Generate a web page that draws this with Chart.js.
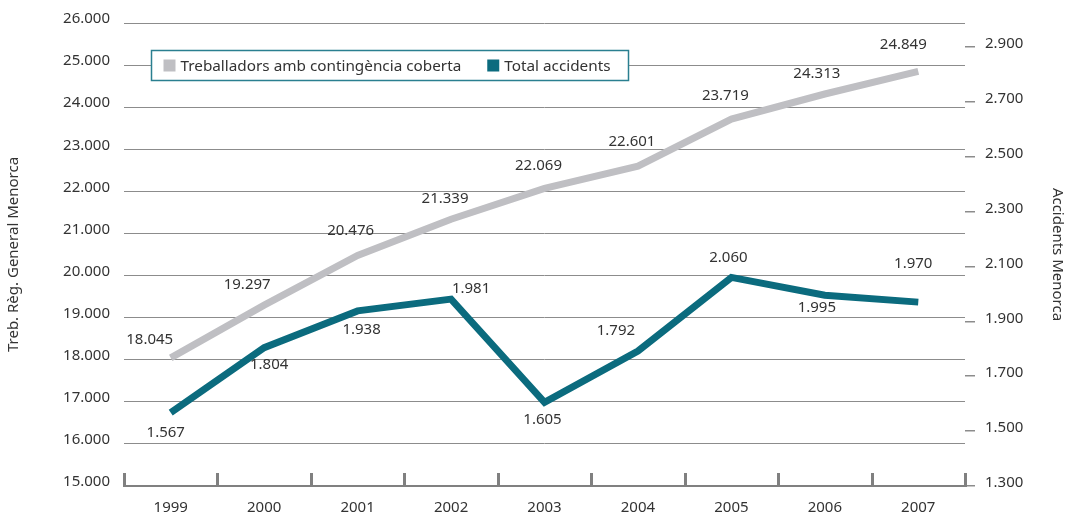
<!DOCTYPE html>
<html>
<head>
<meta charset="utf-8">
<script src="https://cdn.jsdelivr.net/npm/chart.js@4.4.1/dist/chart.umd.min.js"></script>
<style>
    body { margin: 0; background: #fff; }
    #wrap { width: 1068px; height: 515px; }
</style>
</head>
<body>
<div id="wrap"><canvas id="chart" width="1068" height="515"></canvas></div>
<script>
const years = ['1999', '2000', '2001', '2002', '2003', '2004', '2005', '2006', '2007'];
const workers = [18045, 19297, 20476, 21339, 22069, 22601, 23719, 24313, 24849];
const accidents = [1567, 1804, 1938, 1981, 1605, 1792, 2060, 1995, 1970];
const rightTicks = [1300, 1500, 1700, 1900, 2100, 2300, 2500, 2700, 2900];

// where each value label sits relative to its point (px)
const workersLabelShift = [[-21, -18], [-17, -20], [-7, -25], [-6, -20], [-6, -23], [-6, -24], [-6, -23], [-8, -20], [-15, -27]];
const accidentsLabelShift = [[-5, 20], [5, 17], [4, 19], [20, -10], [-2, 17], [-22, -20], [-3, -20], [-8, 12], [-5, -38]];

const GRAY = '#bfbfc3';
const TEAL = '#0b6b7e';
const GRID = '#8c8c8c';
const TEXT = '#333333';
const FONT = '"Noto Sans", sans-serif';

const fmt = v => String(v).replace(/\B(?=(\d{3})+(?!\d))/g, '.');

// baseline plus the short upward ticks between the years
const bottomTicks = {
    id: 'bottomTicks',
    afterDraw(chart) {
        const ctx = chart.ctx;
        const x = chart.scales.x;
        const { left, right, bottom } = chart.chartArea;
        const base = Math.round(bottom);
        ctx.save();
        ctx.strokeStyle = '#808080';
        ctx.lineWidth = 2;
        ctx.beginPath();
        ctx.moveTo(left - 1, base);
        ctx.lineTo(right + 1, base);
        ctx.stroke();
        ctx.lineWidth = 3;
        for (let i = 0; i <= years.length; i++) {
            const px = Math.round(x.getPixelForValue(i - 0.5)) + 0.5;
            ctx.beginPath();
            ctx.moveTo(px, base - 13);
            ctx.lineTo(px, base + 1);
            ctx.stroke();
        }
        ctx.restore();
    }
};

const valueLabels = {
    id: 'valueLabels',
    afterDatasetsDraw(chart) {
        const ctx = chart.ctx;
        const shifts = [workersLabelShift, accidentsLabelShift];
        ctx.save();
        ctx.font = '15px ' + FONT;
        ctx.fillStyle = TEXT;
        ctx.textAlign = 'center';
        ctx.textBaseline = 'middle';
        chart.data.datasets.forEach((ds, d) => {
            chart.getDatasetMeta(d).data.forEach((pt, i) => {
                const s = shifts[d][i];
                ctx.fillText(fmt(ds.data[i]), pt.x + s[0], pt.y + s[1]);
            });
        });
        ctx.restore();
    }
};

const boxLegend = {
    id: 'boxLegend',
    afterDraw(chart) {
        const ctx = chart.ctx;
        const left = 151.5, top = 50.5, w = 477, h = 30;
        ctx.save();
        ctx.fillStyle = '#fff';
        ctx.fillRect(left, top, w, h);
        ctx.strokeStyle = '#2a7f90';
        ctx.lineWidth = 1.5;
        ctx.strokeRect(left, top, w, h);
        ctx.font = '15.3px ' + FONT;
        ctx.textBaseline = 'middle';
        let x = left + 12;
        const cy = top + h / 2;
        chart.data.datasets.forEach(ds => {
            ctx.fillStyle = ds.borderColor;
            ctx.fillRect(x, cy - 6, 12, 12);
            x += 17;
            ctx.fillStyle = TEXT;
            ctx.fillText(ds.label, x, cy + 1);
            x += ctx.measureText(ds.label).width + 26;
        });
        ctx.restore();
    }
};

new Chart(document.getElementById('chart'), {
    type: 'line',
    data: {
        labels: years,
        datasets: [
            { label: 'Treballadors amb contingència coberta', data: workers, yAxisID: 'y', borderColor: GRAY, backgroundColor: GRAY },
            { label: 'Total accidents', data: accidents, yAxisID: 'y1', borderColor: TEAL, backgroundColor: TEAL }
        ]
    },
    options: {
        responsive: false,
        animation: false,
        layout: { padding: { top: 23, left: 0, right: 0, bottom: 0 } },
        elements: {
            line: { borderWidth: 7, tension: 0, borderCapStyle: 'butt', borderJoinStyle: 'miter' },
            point: { radius: 0, hoverRadius: 0 }
        },
        plugins: { legend: { display: false }, tooltip: { enabled: false } },
        scales: {
            x: {
                offset: true,
                grid: { display: false, drawTicks: false },
                border: { display: false },
                ticks: { color: TEXT, font: { family: FONT, size: 15 }, padding: 13, maxRotation: 0 },
                afterFit: s => { s.height = 29; }
            },
            y: {
                position: 'left',
                min: 15000, max: 26000,
                grid: { color: GRID, lineWidth: 1, drawTicks: false },
                border: { display: false },
                ticks: { stepSize: 1000, color: TEXT, font: { family: FONT, size: 15 }, padding: 14, labelOffset: -4, callback: v => fmt(v) },
                title: { display: true, text: 'Treb. Règ. General Menorca', color: TEXT, font: { family: FONT, size: 15 }, padding: { top: 5, bottom: 0 } },
                afterFit: s => { s.width = 124; }
            },
            y1: {
                position: 'right',
                min: 1300, max: 2987,
                grid: { drawOnChartArea: false, drawTicks: true, tickLength: 10, tickColor: GRID, lineWidth: 1.5 },
                border: { display: false },
                afterBuildTicks: s => { s.ticks = rightTicks.map(v => ({ value: v })); },
                ticks: { color: TEXT, font: { family: FONT, size: 15 }, padding: 10, labelOffset: -3, callback: v => fmt(v) },
                title: { display: true, text: 'Accidents Menorca', color: TEXT, font: { family: FONT, size: 15 }, padding: { top: 2, bottom: 0 } },
                afterFit: s => { s.width = 103; }
            }
        }
    },
    plugins: [bottomTicks, valueLabels, boxLegend]
});
</script>
</body>
</html>
